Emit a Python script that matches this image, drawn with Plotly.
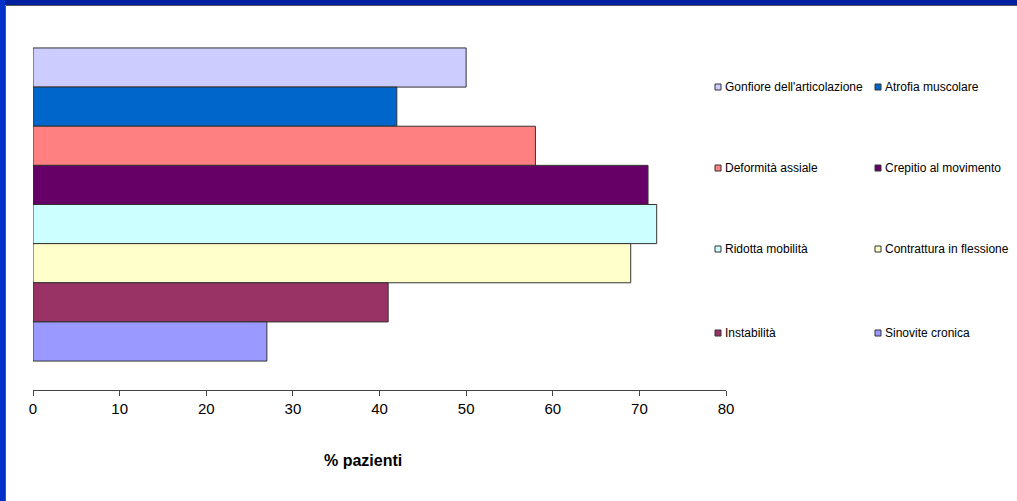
import plotly.graph_objects as go

# Symptoms (top to bottom) and percentage of patients
sintomi = [
    "Gonfiore dell'articolazione",
    "Atrofia muscolare",
    "Deformità assiale",
    "Crepitio al movimento",
    "Ridotta mobilità",
    "Contrattura in flessione",
    "Instabilità",
    "Sinovite cronica",
]
percentuali = [50, 42, 58, 71, 72, 69, 41, 27]
colori = ["#CCCCFF", "#0066CC", "#FF8080", "#660066",
          "#CCFFFF", "#FFFFCC", "#993366", "#9999FF"]
x_ticks = [0, 10, 20, 30, 40, 50, 60, 70, 80]

W, H = 1017, 501
ML, MR, MT, MB = 33, 291, 19, 111
PW, PH = W - ML - MR, H - MT - MB


def px_x(px):
    return (px - ML) / PW


def px_y(py):
    return 1 - (py - MT) / PH


FONT = "Liberation Sans, Arial, sans-serif"

fig = go.Figure()
for nome, val, col in zip(sintomi, percentuali, colori):
    fig.add_trace(go.Bar(
        y=[""], x=[val], orientation="h", name=nome,
        marker=dict(color=col, line=dict(color="#333333", width=1)),
        showlegend=False,
    ))

shapes = [
    # blue frame along the top and left edges
    dict(type="rect", xref="paper", yref="paper",
         x0=px_x(0), x1=px_x(W), y0=px_y(0), y1=px_y(5),
         fillcolor="#0020A0", line=dict(width=0), layer="above"),
    dict(type="rect", xref="paper", yref="paper",
         x0=px_x(0), x1=px_x(5), y0=px_y(0), y1=px_y(H),
         fillcolor="#0030C8", line=dict(width=0), layer="above"),
    dict(type="line", xref="paper", yref="paper",
         x0=px_x(5.5), x1=px_x(W), y0=px_y(5.5), y1=px_y(5.5),
         line=dict(color="#555555", width=1), layer="above"),
    dict(type="line", xref="paper", yref="paper",
         x0=px_x(5.5), x1=px_x(5.5), y0=px_y(5.5), y1=px_y(H),
         line=dict(color="#555555", width=1), layer="above"),
]

annotations = []
# two-column legend
col_x = [715, 875]
row_y = [87, 168, 249, 333]
for i, (nome, col) in enumerate(zip(sintomi, colori)):
    cx = col_x[i % 2]
    cy = row_y[i // 2]
    shapes.append(dict(
        type="rect", xref="paper", yref="paper",
        x0=px_x(cx), x1=px_x(cx + 6), y0=px_y(cy - 3), y1=px_y(cy + 3),
        fillcolor=col, line=dict(color="#333333", width=1),
    ))
    annotations.append(dict(
        text=nome, xref="paper", yref="paper",
        x=px_x(cx + 8), y=px_y(cy), xanchor="left", yanchor="middle",
        showarrow=False, font=dict(family=FONT, size=12, color="#000000"),
    ))

annotations.append(dict(
    text="<b>% pazienti</b>", xref="paper", yref="paper",
    x=px_x(363), y=px_y(460), xanchor="center", yanchor="middle",
    showarrow=False, font=dict(family=FONT, size=16, color="#000000"),
))

fig.update_layout(
    width=W, height=H,
    margin=dict(l=ML, r=MR, t=MT, b=MB, pad=0),
    paper_bgcolor="#FFFFFF", plot_bgcolor="#FFFFFF",
    barmode="group", bargap=0.156, bargroupgap=0,
    shapes=shapes, annotations=annotations,
    font=dict(family=FONT, color="#000000"),
    xaxis=dict(
        range=[0, 80], tickvals=x_ticks, showgrid=False, zeroline=False,
        showline=True, linecolor="#444444", linewidth=1,
        ticks="outside", ticklen=5, tickcolor="#444444",
        tickfont=dict(family=FONT, size=15, color="#000000"),
        fixedrange=True,
    ),
    yaxis=dict(
        type="category", range=[0.5, -0.5], showticklabels=False,
        showgrid=False, zeroline=False, showline=False, ticks="",
        fixedrange=True,
    ),
)

fig.write_html("out.html")
